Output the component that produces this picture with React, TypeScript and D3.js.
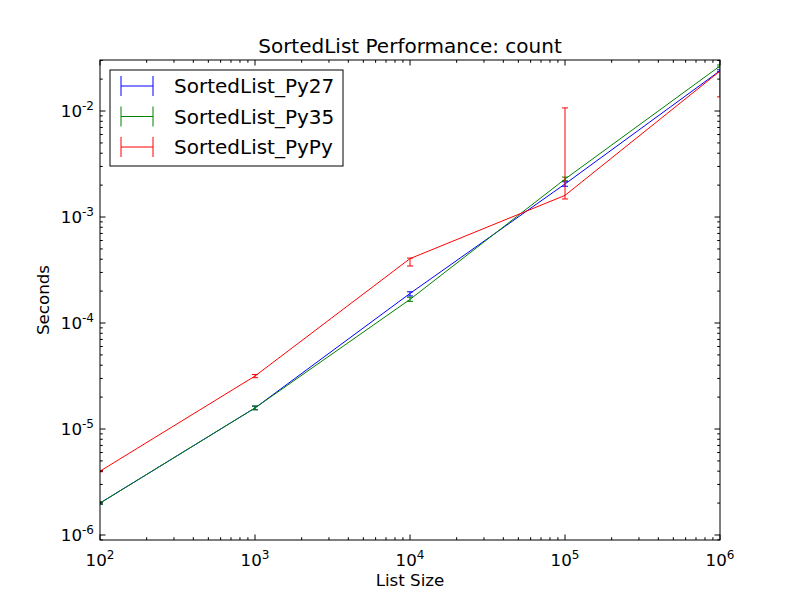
import * as d3 from 'd3'

const sizes = [1e2, 1e3, 1e4, 1e5, 1e6]

const py27 = [2.0e-6, 1.58e-5, 1.9e-4, 2.05e-3, 2.4e-2]
const py27Low = [1.95e-6, 1.52e-5, 1.8e-4, 1.95e-3, 2.35e-2]
const py27High = [2.05e-6, 1.64e-5, 1.97e-4, 2.15e-3, 2.45e-2]

const py35 = [2.0e-6, 1.58e-5, 1.67e-4, 2.28e-3, 2.66e-2]
const py35Low = [1.95e-6, 1.52e-5, 1.6e-4, 2.2e-3, 2.6e-2]
const py35High = [2.05e-6, 1.65e-5, 1.75e-4, 2.38e-3, 2.72e-2]

const pypy = [4.0e-6, 3.16e-5, 4.05e-4, 1.6e-3, 2.38e-2]
const pypyLow = [3.95e-6, 3.05e-5, 3.45e-4, 1.48e-3, 1.36e-2]
const pypyHigh = [4.05e-6, 3.27e-5, 4.1e-4, 1.07e-2, 3.4e-2]

const xTicks = [1e2, 1e3, 1e4, 1e5, 1e6]
const yTicks = [1e-6, 1e-5, 1e-4, 1e-3, 1e-2]

const seriesNames = ['SortedList_Py27', 'SortedList_Py35', 'SortedList_PyPy']
const colors = ['#0000ff', '#008000', '#ff0000']

const series = [
  { name: seriesNames[0], values: py27, low: py27Low, high: py27High, color: colors[0] },
  { name: seriesNames[1], values: py35, low: py35Low, high: py35High, color: colors[1] },
  { name: seriesNames[2], values: pypy, low: pypyLow, high: pypyHigh, color: colors[2] },
]

const W = 800
const H = 600
const margin = { top: 60, right: 80, bottom: 60, left: 100 }
const innerW = W - margin.left - margin.right
const innerH = H - margin.top - margin.bottom
const font = '"DejaVu Sans", sans-serif'

const x = d3.scaleLog().domain([1e2, 1e6]).range([0, innerW])
const y = d3.scaleLog().domain([8.97e-7, 0.0303]).range([innerH, 0])

function minorTicks(lo: number, hi: number, dom: [number, number]) {
  const out: number[] = []
  for (let e = lo; e <= hi; e++) {
    for (let m = 2; m <= 9; m++) {
      const v = m * Math.pow(10, e)
      if (v > dom[0] && v < dom[1]) out.push(v)
    }
  }
  return out
}

function Pow10({ v, ...rest }: { v: number } & any) {
  const exp = Math.round(Math.log10(v))
  return (
    <text {...rest} fontFamily={font} fontSize={16.7} fill="#000">
      10
      <tspan fontSize={12} dy={-7}>{exp}</tspan>
    </text>
  )
}

function Chart() {
  const line = d3
    .line<number>()
    .x((_, i) => x(sizes[i]))
    .y(d => y(d))

  const xMinor = minorTicks(2, 5, [1e2, 1e6])
  const yMinor = minorTicks(-7, -2, y.domain() as [number, number])
  const major = 5.5
  const minor = 2.8

  return (
    <svg width={W} height={H} style={{ display: 'block', background: '#fff' }}>
      <rect width={W} height={H} fill="#fff" />
      <defs>
        <clipPath id="plot">
          <rect x={0} y={0} width={innerW} height={innerH} />
        </clipPath>
      </defs>
      <g transform={`translate(${margin.left},${margin.top})`}>
        <text x={innerW / 2} y={-7} textAnchor="middle" fontFamily={font} fontSize={20} fill="#000">
          SortedList Performance: count
        </text>
        <g clipPath="url(#plot)">
          {series.map(s => (
            <g key={s.name}>
              <path d={line(s.values) ?? ''} fill="none" stroke={s.color} strokeWidth={1} />
              {s.values.map((_, i) => {
                const cx = x(sizes[i])
                return (
                  <g key={i} stroke={s.color} strokeWidth={1}>
                    <line x1={cx} x2={cx} y1={y(s.low[i])} y2={y(s.high[i])} />
                    <line x1={cx - 3} x2={cx + 3} y1={y(s.low[i])} y2={y(s.low[i])} />
                    <line x1={cx - 3} x2={cx + 3} y1={y(s.high[i])} y2={y(s.high[i])} />
                  </g>
                )
              })}
            </g>
          ))}
        </g>

        {/* ticks, inward on all sides */}
        <g stroke="#000" strokeWidth={1}>
          {xTicks.map(t => (
            <g key={'xm' + t}>
              <line x1={x(t)} x2={x(t)} y1={innerH} y2={innerH - major} />
              <line x1={x(t)} x2={x(t)} y1={0} y2={major} />
            </g>
          ))}
          {xMinor.map(t => (
            <g key={'xn' + t}>
              <line x1={x(t)} x2={x(t)} y1={innerH} y2={innerH - minor} />
              <line x1={x(t)} x2={x(t)} y1={0} y2={minor} />
            </g>
          ))}
          {yTicks.map(t => (
            <g key={'ym' + t}>
              <line x1={0} x2={major} y1={y(t)} y2={y(t)} />
              <line x1={innerW} x2={innerW - major} y1={y(t)} y2={y(t)} />
            </g>
          ))}
          {yMinor.map(t => (
            <g key={'yn' + t}>
              <line x1={0} x2={minor} y1={y(t)} y2={y(t)} />
              <line x1={innerW} x2={innerW - minor} y1={y(t)} y2={y(t)} />
            </g>
          ))}
        </g>
        <rect x={0} y={0} width={innerW} height={innerH} fill="none" stroke="#000" strokeWidth={1} />

        {xTicks.map(t => (
          <Pow10 key={'xl' + t} v={t} x={x(t)} y={innerH + 26} textAnchor="middle" />
        ))}
        {yTicks.map(t => (
          <Pow10 key={'yl' + t} v={t} x={-6} y={y(t) + 6} textAnchor="end" />
        ))}

        <text x={innerW / 2} y={innerH + 46} textAnchor="middle" fontFamily={font} fontSize={16.7} fill="#000">
          List Size
        </text>
        <text
          transform={`translate(${-51},${innerH / 2}) rotate(-90)`}
          textAnchor="middle"
          fontFamily={font}
          fontSize={16.7}
          fill="#000"
        >
          Seconds
        </text>

        {/* legend */}
        <g transform="translate(10,10)">
          <rect x={0} y={0} width={233} height={96} fill="#fff" stroke="#000" strokeWidth={1} />
          {series.map((s, i) => {
            const ly = 16 + i * 30.5
            return (
              <g key={s.name}>
                <g stroke={s.color} strokeWidth={1}>
                  <line x1={11} x2={43} y1={ly} y2={ly} />
                  <line x1={11} x2={11} y1={ly - 10} y2={ly + 10} />
                  <line x1={43} x2={43} y1={ly - 10} y2={ly + 10} />
                </g>
                <text x={64} y={ly + 7} fontFamily={font} fontSize={20} fill="#000">
                  {s.name}
                </text>
              </g>
            )
          })}
        </g>
      </g>
    </svg>
  )
}

export default function App() {
  return (
    <>
      <style>{`body{margin:0}`}</style>
      <Chart />
    </>
  )
}
